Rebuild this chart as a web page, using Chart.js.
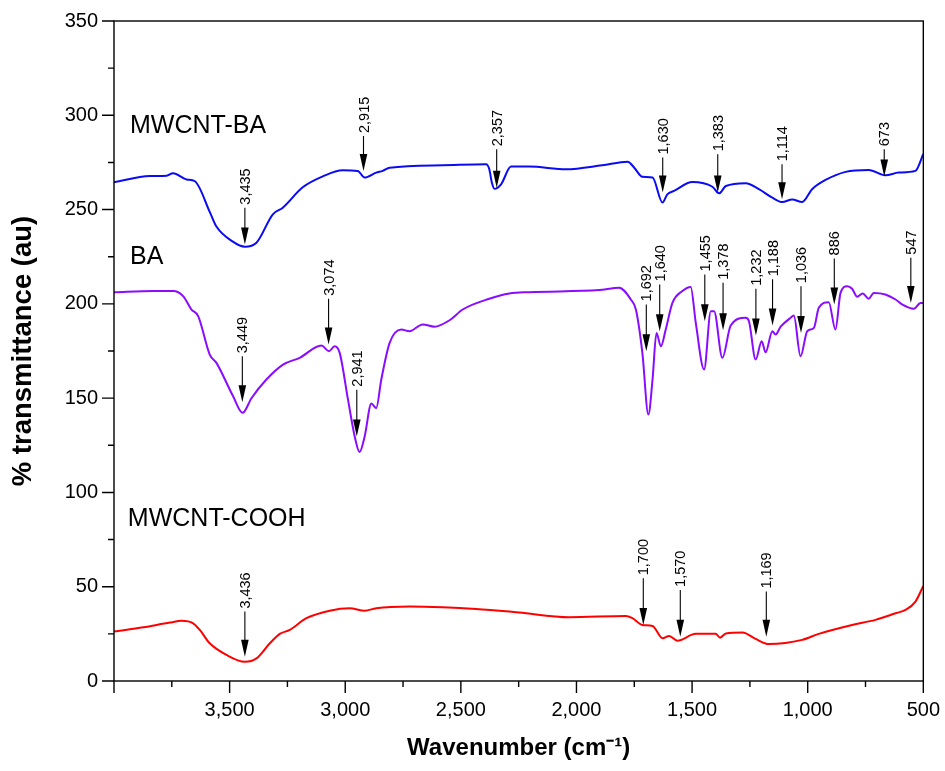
<!DOCTYPE html>
<html>
<head>
<meta charset="utf-8">
<script src="https://cdn.jsdelivr.net/npm/chart.js@4.4.0/dist/chart.umd.min.js"></script>
<style>
  html, body { margin: 0; padding: 0; background: #fff; }
</style>
</head>
<body>
<canvas id="ftir" width="945" height="771"></canvas>
<script>
// FTIR spectra: MWCNT-BA, BA, MWCNT-COOH
const FONT = "'Liberation Sans', Arial, Helvetica, sans-serif";

// wavenumber (cm-1) / transmittance
const mwbaWn = [4000, 3845, 3772, 3745, 3686, 3650, 3585, 3557, 3486, 3434, 3384, 3313, 3270, 3184, 3097, 3011,
  2946, 2916, 2866, 2838, 2808, 2579, 2391, 2377, 2366, 2355, 2326, 2283, 2204, 2045, 1889, 1779, 1750, 1715,
  1671, 1628, 1607, 1578, 1499, 1412, 1383, 1354, 1268, 1211, 1153, 1110, 1067, 1024, 981, 923, 836, 736,
  664, 606, 534, 500];
const mwbaT = [264.5, 267.8, 268, 269.3, 266, 265, 248.5, 241, 233, 230.3, 232.4, 247.5, 251, 261.8, 267.6, 270.8,
  270.5, 267, 269.6, 270.5, 272.2, 273.5, 274, 271.4, 264.3, 261, 263.4, 272.8, 272.8, 271.4, 273.5, 275.4, 272.2, 267.4,
  267, 253.7, 258.1, 259.9, 264.6, 262.1, 258.6, 262.5, 264, 260.8, 256.3, 254, 255.4, 254, 260.8, 265.7, 270, 271,
  268.2, 269.6, 270.5, 279.5];

const baWn = [4000, 3830, 3744, 3701, 3665, 3636, 3586, 3557, 3485, 3444, 3405, 3341, 3269, 3197, 3103, 3070,
  3046, 3024, 2988, 2959, 2938, 2916, 2887, 2866, 2844, 2808, 2758, 2722, 2665, 2614, 2549, 2492, 2377, 2290,
  2204, 1902, 1815, 1765, 1743, 1715, 1689, 1671, 1654, 1635, 1614, 1585, 1542, 1506, 1484, 1448, 1419, 1405,
  1369, 1333, 1268, 1254, 1225, 1199, 1182, 1153, 1139, 1117, 1074, 1060, 1031, 1002, 973, 952, 909, 880,
  858, 829, 808, 786, 762, 736, 714, 664, 620, 592, 541, 512, 500];
const baT = [206.2, 206.8, 206.8, 204.1, 197, 193.5, 173.1, 168.7, 151, 142.2, 150.1, 159.9, 167.8, 171.4, 177.9, 174.9,
  177.5, 174, 149.2, 129.7, 121.4, 129.7, 147.1, 144.8, 159.9, 179.3, 186.4, 185.5, 189.1, 187.9, 191.3, 197, 202.7, 205.5,
  206.2, 207.3, 208.5, 202.3, 197, 174, 141.3, 159.9, 184.6, 177.5, 186.4, 200.5, 206.8, 209, 189.9, 165.2, 196.1, 196.1,
  171.4, 188.5, 192.6, 190.8, 170.5, 180.2, 174.3, 185.5, 183.7, 187.9, 192.6, 193.8, 172.2, 185.5, 187.3, 197.9, 200.9, 186.4,
  205.8, 209.4, 208, 203.8, 205.5, 202.7, 205.8, 205, 202.3, 199.7, 197.4, 200.5, 200.5];

const coohWn = [4000, 3873, 3758, 3708, 3658, 3629, 3586, 3513, 3434, 3384, 3326, 3283, 3240, 3168, 3067, 2981,
  2916, 2866, 2722, 2578, 2434, 2290, 2247, 2031, 1787, 1758, 1715, 1671, 1628, 1599, 1564, 1484, 1398, 1379,
  1354, 1282, 1225, 1168, 1024, 952, 808, 707, 620, 577, 534, 500];
const coohT = [26.2, 28.5, 31, 31.9, 30.6, 27.1, 20, 13.8, 10.2, 12, 20, 25, 27.1, 33.3, 37.3, 38.6,
  37.3, 38.6, 39.5, 39.1, 38.2, 36.8, 36.3, 33.8, 34.5, 33.3, 29.7, 29.2, 22.7, 23.9, 21.4, 25, 25, 23,
  25.2, 25.7, 22.3, 19.6, 21.8, 25, 29.7, 32.4, 35.9, 37.7, 42.1, 50.4];

// peak arrows: [wavenumber, arrow tip, arrow tail, label]
const mwbaPeaks = [[3434, 231.5, 251, '3,435'], [2921, 270.5, 289, '2,915'], [2345, 261.6, 282, '2,357'],
  [1627, 259, 277.6, '1,630'], [1389, 259, 279.3, '1,383'], [1111, 255.5, 274, '1,114'], [669, 267.5, 282, '673']];
const baPeaks = [[3445, 147.8, 172.2, '3,449'], [3072, 178.4, 202.7, '3,074'], [2950, 129.7, 154.5, '2,941'],
  [1698, 174.9, 199.7, '1,692'], [1640, 185.5, 210.3, '1,640'], [1445, 190.8, 215.6, '1,455'],
  [1366, 186, 211.2, '1,378'], [1224, 183.2, 208, '1,232'], [1152, 188.5, 213, '1,188'],
  [1029, 184.6, 209.4, '1,036'], [885, 199.7, 224.1, '886'], [554, 200.5, 224.5, '547']];
const coohPeaks = [[3434, 12.9, 36.8, '3,436'], [1711, 29.7, 54.5, '1,700'], [1551, 23.5, 48.3, '1,570'],
  [1179, 23.5, 47.4, '1,169']];

// sample names: [wavenumber, transmittance at baseline, text]
const seriesNames = [[3931, 290.5, 'MWCNT-BA'], [3931, 220.9, 'BA'], [3940, 82.3, 'MWCNT-COOH']];

function toPoints(xs, ys) {
  return xs.map((x, i) => ({ x: x, y: ys[i] }));
}

function withCommas(v) {
  return v.toLocaleString('en-US');
}

// frame, minor/major ticks, arrows and sample names
const decorations = {
  id: 'decorations',
  afterDraw(chart) {
    const ctx = chart.ctx;
    const area = chart.chartArea;
    const xs = chart.scales.x;
    const ys = chart.scales.y;
    ctx.save();
    ctx.strokeStyle = '#000';
    ctx.lineWidth = 1.4;
    ctx.strokeRect(area.left, area.top, area.right - area.left, area.bottom - area.top);

    ctx.beginPath();
    xs.ticks.forEach(t => {
      const px = xs.getPixelForValue(t.value);
      const len = t.value % 500 === 0 ? 12 : 6;
      ctx.moveTo(px, area.bottom);
      ctx.lineTo(px, area.bottom + len);
    });
    ys.ticks.forEach(t => {
      const py = ys.getPixelForValue(t.value);
      const len = t.value % 50 === 0 ? 12 : 6;
      ctx.moveTo(area.left, py);
      ctx.lineTo(area.left - len, py);
    });
    ctx.stroke();

    // arrows
    ctx.fillStyle = '#000';
    ctx.lineWidth = 1.1;
    ctx.font = '14.5px ' + FONT;
    [mwbaPeaks, baPeaks, coohPeaks].forEach(list => {
      list.forEach(p => {
        const px = xs.getPixelForValue(p[0]);
        const tip = ys.getPixelForValue(p[1]);
        const tail = ys.getPixelForValue(p[2]);
        ctx.beginPath();
        ctx.moveTo(px, tail);
        ctx.lineTo(px, tip - 14);
        ctx.stroke();
        ctx.beginPath();
        ctx.moveTo(px, tip);
        ctx.lineTo(px - 3.8, tip - 17);
        ctx.lineTo(px + 3.8, tip - 17);
        ctx.closePath();
        ctx.fill();
        ctx.save();
        ctx.translate(px + 1, tail - 3);
        ctx.rotate(-Math.PI / 2);
        ctx.textAlign = 'left';
        ctx.textBaseline = 'middle';
        ctx.fillText(p[3], 0, 0);
        ctx.restore();
      });
    });

    ctx.font = '25px ' + FONT;
    ctx.textAlign = 'left';
    ctx.textBaseline = 'alphabetic';
    seriesNames.forEach(n => {
      ctx.fillText(n[2], xs.getPixelForValue(n[0]), ys.getPixelForValue(n[1]));
    });
    ctx.restore();
  }
};

const chart = new Chart(document.getElementById('ftir'), {
  type: 'line',
  data: {
    datasets: [
      { label: 'MWCNT-BA', data: toPoints(mwbaWn, mwbaT), borderColor: '#0a0af5' },
      { label: 'BA', data: toPoints(baWn, baT), borderColor: '#8a0cff' },
      { label: 'MWCNT-COOH', data: toPoints(coohWn, coohT), borderColor: '#ff0000' }
    ]
  },
  options: {
    responsive: false,
    animation: false,
    devicePixelRatio: 1,
    layout: { padding: { top: 21, right: 18, left: 0, bottom: 0 } },
    elements: {
      point: { radius: 0 },
      line: { borderWidth: 2, cubicInterpolationMode: 'monotone', fill: false }
    },
    plugins: {
      legend: { display: false },
      tooltip: { enabled: false }
    },
    scales: {
      x: {
        type: 'linear',
        reverse: true,
        min: 500,
        max: 4000,
        grid: { display: false, drawTicks: true, tickLength: 12 },
        border: { display: false },
        ticks: {
          stepSize: 250,
          autoSkip: false,
          maxRotation: 0,
          padding: 5,
          color: '#000',
          font: { family: FONT, size: 20 },
          callback: v => (v % 500 === 0 && v < 4000) ? withCommas(v) : ''
        },
        title: {
          display: true,
          text: 'Wavenumber (cm\u207B\u00B9)',
          color: '#000',
          font: { family: FONT, size: 24, weight: 'bold' },
          padding: { top: 0, bottom: 8 }
        },
        afterFit: s => { s.height = 90; }
      },
      y: {
        min: 0,
        max: 350,
        grid: { display: false, drawTicks: true, tickLength: 12 },
        border: { display: false },
        ticks: {
          stepSize: 25,
          autoSkip: false,
          padding: 4,
          color: '#000',
          font: { family: FONT, size: 20 },
          callback: v => v % 50 === 0 ? String(v) : ''
        },
        title: {
          display: true,
          text: '% transmittance (au)',
          color: '#000',
          font: { family: FONT, size: 27.5, weight: 'bold' },
          padding: { top: 7, bottom: 0 }
        },
        afterFit: s => { s.width = 114; }
      }
    }
  },
  plugins: [decorations]
});
</script>
</body>
</html>
